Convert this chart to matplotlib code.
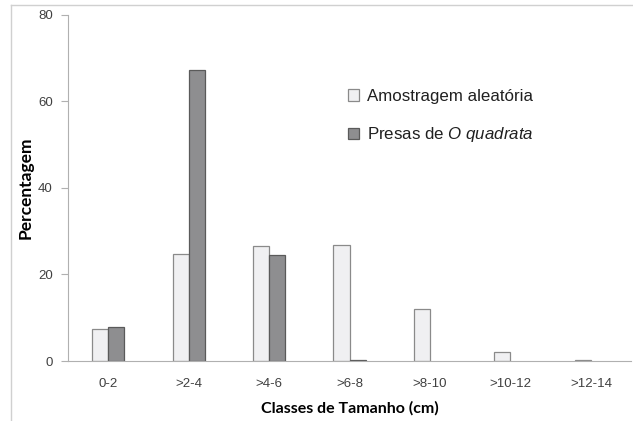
import numpy as np
import matplotlib
matplotlib.use("Agg")
from matplotlib import pyplot as plt
from matplotlib.lines import Line2D

plt.rcParams["mathtext.fontset"] = "custom"
plt.rcParams["mathtext.rm"] = "Liberation Sans"
plt.rcParams["mathtext.it"] = "Liberation Sans:italic"

# data
classes = ["0-2", ">2-4", ">4-6", ">6-8", ">8-10", ">10-12", ">12-14"]
amostragem = [7.3, 24.7, 26.7, 26.8, 12.0, 2.1, 0.2]
presas = [7.8, 67.2, 24.6, 0.3, 0.0, 0.0, 0.0]

fig = plt.figure(figsize=(6.33, 4.21), dpi=100)
ax = fig.add_axes([0.1074, 0.1425, 0.8896, 0.822])

x = np.arange(len(classes))
w = 0.2
a = np.array(amostragem)
p = np.array(presas)
ax.bar(x - w / 2, a, w, color="#f0f0f2", edgecolor="#8a8a8a", linewidth=0.9,
       label="Amostragem aleatória")
# zero-valued bars are not drawn in the original
ax.bar((x + w / 2)[p > 0], p[p > 0], w, color="#8e8e90", edgecolor="#5a5a5a", linewidth=0.9,
       label="Presas de $\\mathit{O\\ quadrata}$")

ax.set_xlim(-0.5, len(classes) - 0.5)
ax.set_ylim(0, 80)
ax.set_yticks([0, 20, 40, 60, 80])
ax.set_xticks(x)
ax.set_xticklabels(classes)

for s in ["top", "right"]:
    ax.spines[s].set_visible(False)
ax.spines["left"].set_color("#b0b0b0")
ax.spines["bottom"].set_color("#b0b0b0")
ax.tick_params(axis="y", direction="out", length=5, color="#b0b0b0", labelcolor="#404040",
               labelsize=9.5, pad=6)
ax.tick_params(axis="x", length=0, labelcolor="#404040", labelsize=9.5, pad=12)
for lab in ax.get_xticklabels() + ax.get_yticklabels():
    lab.set_family("Liberation Sans")

ax.set_ylabel("Percentagem", fontsize=12.5, fontweight="bold", family="Lato", labelpad=3)
ax.set_xlabel("Classes de Tamanho (cm)", fontsize=11.5, fontweight="bold", family="Lato",
              labelpad=8)

leg = ax.legend(loc="upper left", bbox_to_anchor=(0.47, 0.83), frameon=False,
                prop={"family": "Liberation Sans", "size": 12.2},
                handlelength=0.65, handleheight=0.65, handletextpad=0.45, labelspacing=1.25)
for t in leg.get_texts():
    t.set_color("#202020")

# thin frame from the source page
fig.add_artist(Line2D([11 / 633, 11 / 633], [0, 1 - 5 / 421], color="#d0d0d0", lw=1,
                      transform=fig.transFigure))
fig.add_artist(Line2D([11 / 633, 1], [1 - 5 / 421, 1 - 5 / 421], color="#d0d0d0", lw=1,
                      transform=fig.transFigure))

fig.savefig("out.png", dpi=100)
